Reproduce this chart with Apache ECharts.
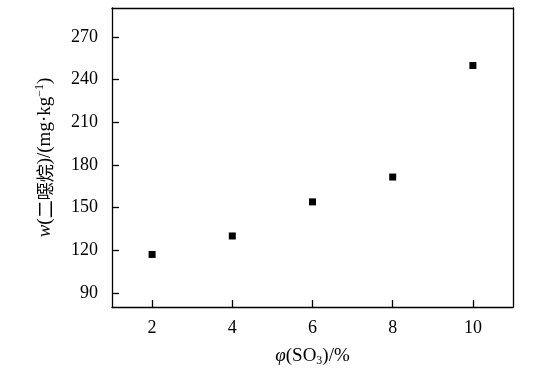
<!DOCTYPE html>
<html>
<head>
<meta charset="utf-8">
<script src="https://cdn.jsdelivr.net/npm/echarts@6/dist/echarts.min.js"></script>
<style>
  html, body { margin: 0; padding: 0; background: #fff; }
  #chart { width: 541px; height: 372px; }
</style>
</head>
<body>
<div id="chart"></div>
<script>
// SO3 volume fraction (%) and dioxane content (mg/kg)
var so3 = [2, 4, 6, 8, 10];
var dioxane = [117, 130, 154, 171.5, 250];
var xTicks = [2, 4, 6, 8, 10];
var yTicks = [90, 120, 150, 180, 210, 240, 270];

var points = so3.map(function (x, i) { return [x, dioxane[i]]; });
var serif = '"Liberation Serif", "Times New Roman", serif';
var black = { color: '#000', width: 1.3 };

function frameAxis(pos, min, max) {
  return {
    type: 'value', min: min, max: max, position: pos,
    axisLine: { show: true, onZero: false, lineStyle: black },
    axisTick: { show: false }, axisLabel: { show: false }, splitLine: { show: false }
  };
}

var chart = echarts.init(document.getElementById('chart'));
chart.setOption({
  animation: false,
  grid: { left: 112, right: 28, top: 8, bottom: 63 },
  xAxis: [{
    type: 'value',
    min: 1, max: 11,
    axisLine: { onZero: false, lineStyle: black },
    axisTick: { inside: true, length: 7, lineStyle: black, customValues: xTicks },
    axisLabel: { color: '#000', fontFamily: serif, fontSize: 18, margin: 12, customValues: xTicks },
    splitLine: { show: false },
    name: '{i|φ}{n|(SO}{s|3}{n|)/%}',
    nameLocation: 'middle',
    nameGap: 38,
    nameTextStyle: {
      rich: {
        i: { fontFamily: serif, fontStyle: 'italic', fontSize: 19, color: '#000' },
        n: { fontFamily: serif, fontSize: 19, color: '#000' },
        s: { fontFamily: serif, fontSize: 12, color: '#000', padding: [10, 0, 0, 0] }
      }
    }
  }, frameAxis('top', 1, 11)],
  yAxis: [{
    type: 'value',
    min: 80, max: 290.5,
    axisLine: { show: true, onZero: false, lineStyle: black },
    axisTick: { show: true, inside: true, length: 7, lineStyle: black, customValues: yTicks },
    axisLabel: { color: '#000', fontFamily: serif, fontSize: 18, margin: 14, customValues: yTicks },
    splitLine: { show: false },
    name: '{i|w}{n|(}{c|二噁烷}{n|)/(mg·kg}{p|−1}{n|)}',
    nameLocation: 'middle',
    nameGap: 56,
    nameRotate: 90,
    nameTextStyle: {
      rich: {
        i: { fontFamily: serif, fontStyle: 'italic', fontSize: 19, color: '#000' },
        n: { fontFamily: serif, fontSize: 19, color: '#000' },
        c: { fontFamily: '"Noto Sans CJK SC", serif', fontSize: 18, color: '#000' },
        p: { fontFamily: serif, fontSize: 12, color: '#000', padding: [0, 0, 10, 0] }
      }
    }
  }, frameAxis('right', 80, 290.5)],
  series: [{
    type: 'scatter',
    data: points,
    symbol: 'rect',
    symbolSize: 7,
    itemStyle: { color: '#000', opacity: 1 }
  }]
});
</script>
</body>
</html>
